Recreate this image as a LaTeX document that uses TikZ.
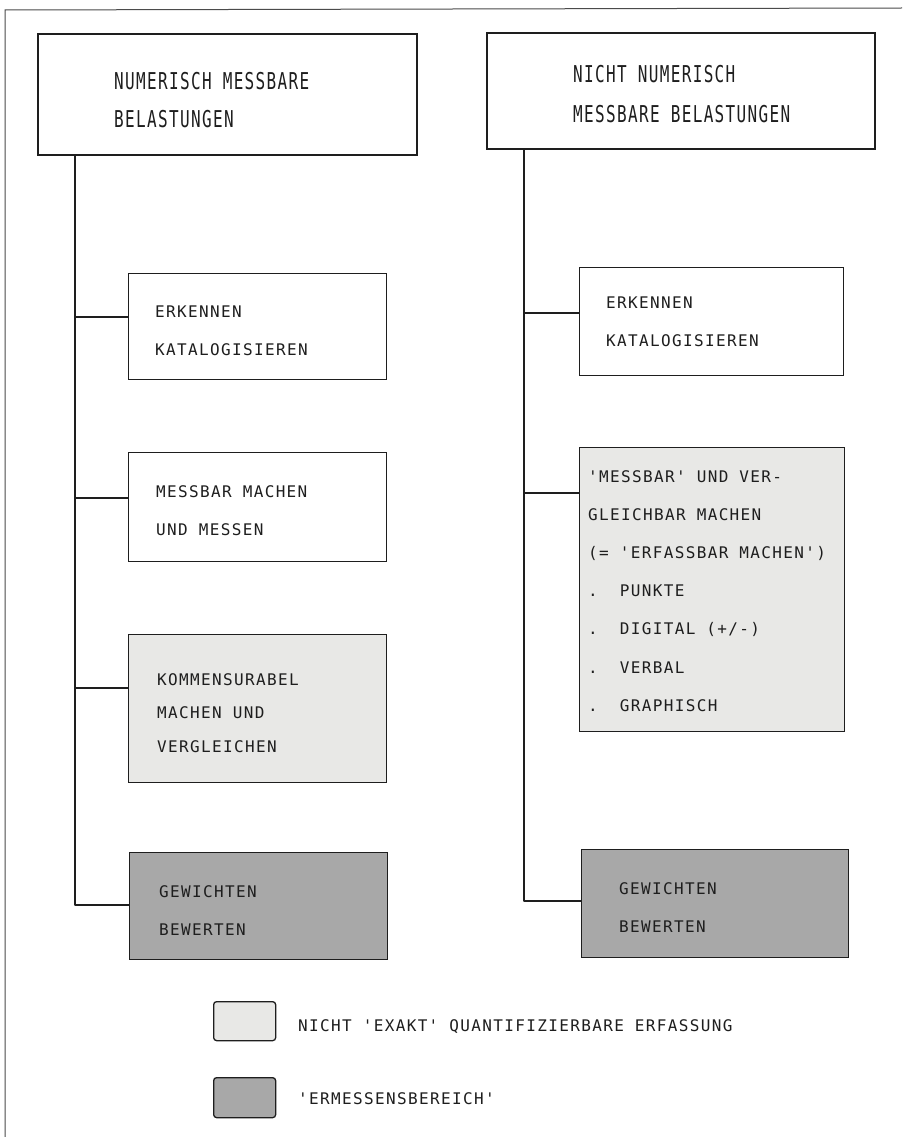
\documentclass[tikz,border=0pt]{standalone}
\usepackage{fontspec}
\usepackage{graphicx}
\newfontfamily\pf{DejaVu Sans Mono}[LetterSpace=8.5, Ligatures=ResetAll]
\definecolor{lightg}{HTML}{E8E8E6}
\definecolor{darkg}{HTML}{A8A8A8}
\definecolor{ink}{HTML}{1E1E1E}
\tikzset{
  box/.style={draw=ink, line width=1.3pt, rectangle, inner sep=0pt, anchor=north west},
  hbox/.style={box, line width=1.8pt},
  lite/.style={fill=lightg},
  dark/.style={fill=darkg},
  txt/.style={anchor=base west, inner sep=0pt, text=ink, font=\pf\fontsize{16}{16}\selectfont},
  link/.style={draw=ink, line width=1.3pt, line join=round},
  frame/.style={draw=ink!80, line width=1pt}
}
\newcommand\txtlines[5]{%
  \foreach \s [count=\i from 0] in {#4} {\node[txt] (#1-\i) at (#2,{#3+#5*\i}) {\s};}}
\begin{document}
\begin{tikzpicture}[x=1pt,y=-1pt]
\useasboundingbox[fill=white] (0,0) rectangle (902,1137);
% outer frame
\coordinate (f1) at (5,1137);
\coordinate (f2) at (5,10);
\coordinate (f3) at (902,8);
\draw[frame] (f1) -- (f2) -- (f3);

% headers
\node[hbox, minimum width=379pt, minimum height=121pt] (L0) at (37,33) {};
\node[txt] (L0a) at (114,90) {\scalebox{1}[1.45]{NUMERISCH MESSBARE}};
\node[txt] (L0b) at (114,128) {\scalebox{1}[1.45]{BELASTUNGEN}};
\node[hbox, minimum width=388pt, minimum height=116pt] (R0) at (486,32) {};
\node[txt] (R0a) at (573,83) {\scalebox{1}[1.45]{NICHT NUMERISCH}};
\node[txt] (R0b) at (573,122) {\scalebox{1}[1.45]{MESSBARE BELASTUNGEN}};

% left column
\node[box, minimum width=258pt, minimum height=106pt] (L1) at (128,273) {};
\txtlines{L1}{155}{317}{ERKENNEN,KATALOGISIEREN}{38}
\node[box, minimum width=258pt, minimum height=109pt] (L2) at (128,452) {};
\txtlines{L2}{156}{497}{MESSBAR MACHEN,UND MESSEN}{38}
\node[box, lite, minimum width=258pt, minimum height=148pt] (L3) at (128,634) {};
\txtlines{L3}{157}{685}{KOMMENSURABEL,MACHEN UND,VERGLEICHEN}{33.5}
\node[box, dark, minimum width=258pt, minimum height=107pt] (L4) at (129,852) {};
\txtlines{L4}{159}{897}{GEWICHTEN,BEWERTEN}{38}

% right column
\node[box, minimum width=264pt, minimum height=108pt] (R1) at (579,267) {};
\txtlines{R1}{606}{308}{ERKENNEN,KATALOGISIEREN}{38}
\node[box, lite, minimum width=265pt, minimum height=284pt] (R2) at (579,447) {};
\txtlines{R2}{588}{482}{'MESSBAR' UND VER-,GLEICHBAR MACHEN,{(= 'ERFASSBAR MACHEN')},.\ \ PUNKTE,.\ \ DIGITAL (+/-),.\ \ VERBAL,.\ \ GRAPHISCH}{38.2}
\node[box, dark, minimum width=267pt, minimum height=108pt] (R3) at (581,849) {};
\txtlines{R3}{619}{894}{GEWICHTEN,BEWERTEN}{38.5}

% left trunk
\coordinate (lj1) at (75,317);
\coordinate (lj2) at (75,498);
\coordinate (lj3) at (75,688);
\coordinate (lj4) at (75,905);
\draw[link] (lj4 |- L0.south) -- (lj4) -- (lj4 -| L4.west);
\draw[link] (lj1) -- (lj1 -| L1.west);
\draw[link] (lj2) -- (lj2 -| L2.west);
\draw[link] (lj3) -- (lj3 -| L3.west);

% right trunk
\coordinate (rj1) at (524,313);
\coordinate (rj2) at (524,493);
\coordinate (rj3) at (524,901);
\draw[link] (rj3 |- R0.south) -- (rj3) -- (rj3 -| R3.west);
\draw[link] (rj1) -- (rj1 -| R1.west);
\draw[link] (rj2) -- (rj2 -| R2.west);

% legend
\node[box, lite, rounded corners=3pt, minimum width=62pt, minimum height=39pt] (G1) at (213,1001) {};
\node[txt] (G1t) at (298,1031) {NICHT 'EXAKT' QUANTIFIZIERBARE ERFASSUNG};
\node[box, dark, rounded corners=3pt, minimum width=62pt, minimum height=40pt] (G2) at (213,1077) {};
\node[txt] (G2t) at (298,1104) {'ERMESSENSBEREICH'};
\end{tikzpicture}
\end{document}
